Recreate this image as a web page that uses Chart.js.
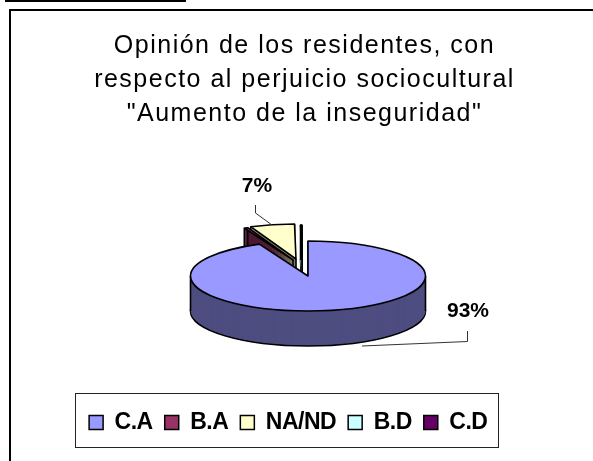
<!DOCTYPE html>
<html>
<head>
  <meta charset="UTF-8">
  <title>Opinión de los residentes</title>
  <script src="https://cdn.jsdelivr.net/npm/chart.js"></script>
  <style>
    html, body { margin: 0; padding: 0; background: #fff; }
    #chart { display: block; }
  </style>
</head>
<body>
  <canvas id="chart" width="593" height="461"></canvas>
  <script>
    const categories = ['C.A', 'B.A', 'NA/ND', 'B.D', 'C.D'];
    const values = [93.2, 0.5, 6.1, 0.1, 0.1];
    const colors = ['#9999FF', '#993366', '#FFFFCC', '#CCFFFF', '#660066'];
    const wallColors = ['#4D4D80', '#4D1A33', '#808066', '#668080', '#330033'];
    const titleLines = ['Opinión de los residentes, con', 'respecto al perjuicio sociocultural', '"Aumento de la inseguridad"'];

    // pie geometry on the page
    const pie = { x: 308, y: 276, rx: 117.5, ry: 35, depth: 35 };
    const shifts = [[0, 0], [-15, -16], [-12, -17], [-6, -16], [-6, -16]];
    const drawOrder = [4, 3, 2, 1, 0];

    function outline(ctx, arc, dy) {
      ctx.beginPath();
      ctx.moveTo(pie.x, pie.y + dy);
      ctx.ellipse(pie.x, pie.y + dy, pie.rx, pie.ry, 0, arc.startAngle, arc.endAngle);
      ctx.closePath();
    }

    function drawArc(ctx, arc, color, dy) {
      const saved = arc.options;
      arc.options = Object.assign({}, saved, { backgroundColor: color, borderColor: color, borderWidth: 0 });
      const k = pie.rx / arc.outerRadius;
      ctx.save();
      ctx.translate(pie.x, pie.y + dy);
      ctx.scale(k, pie.ry / arc.outerRadius);
      ctx.translate(-arc.x, -arc.y);
      arc.draw(ctx);
      ctx.restore();
      arc.options = saved;
    }

    function edgePoints(arc) {
      const pts = [[pie.x, pie.y]];
      const angles = [arc.startAngle, arc.endAngle];
      // side extremes of the ellipse, when the slice reaches them
      [0, Math.PI, 2 * Math.PI].forEach(a => {
        if (a > arc.startAngle && a < arc.endAngle) angles.push(a);
      });
      angles.forEach(a => pts.push([pie.x + pie.rx * Math.cos(a), pie.y + pie.ry * Math.sin(a)]));
      return pts;
    }

    function withSpacing(chart, box, spacing) {
      const draw = box.draw;
      box.draw = function () {
        chart.ctx.letterSpacing = spacing;
        draw.call(this);
        chart.ctx.letterSpacing = '0px';
      };
      box.spaced = true;
    }

    const pie3d = {
      id: 'pie3d',
      afterLayout(chart) {
        // move the boxes to where the reference has them
        const t = chart.titleBlock, l = chart.legend;
        t.left += 8; t.right += 8;
        l.left -= 4; l.right -= 4;
        if (!t.spaced) withSpacing(chart, t, '1.5px');
        if (!l.spaced) withSpacing(chart, l, '-0.5px');
      },
      beforeDraw(chart) {
        const ctx = chart.ctx;
        ctx.save();
        ctx.fillStyle = '#fff';
        ctx.fillRect(0, 0, chart.width, chart.height);
        ctx.strokeStyle = '#000';
        ctx.lineWidth = 2;
        ctx.beginPath();
        ctx.moveTo(5, 1);
        ctx.lineTo(186, 1);
        ctx.moveTo(593, 10);
        ctx.lineTo(10, 10);
        ctx.lineTo(10, 461);
        ctx.stroke();
        ctx.lineWidth = 1;
        ctx.strokeStyle = '#222';
        ctx.strokeRect(75.5, 393.5, 423, 54);
        ctx.restore();
      },
      beforeDatasetDraw(chart, args) {
        const ctx = chart.ctx;
        const arcs = chart.getDatasetMeta(args.index).data;
        ctx.save();
        ctx.strokeStyle = '#000';
        ctx.lineWidth = 1.6;
        ctx.lineJoin = 'round';
        drawOrder.forEach(i => {
          const arc = arcs[i];
          ctx.save();
          ctx.translate(shifts[i][0], shifts[i][1]);
          drawArc(ctx, arc, wallColors[i], pie.depth);
          outline(ctx, arc, pie.depth);
          ctx.stroke();
          for (let d = pie.depth - 1; d > 0; d--) drawArc(ctx, arc, wallColors[i], d);
          ctx.beginPath();
          edgePoints(arc).forEach(p => {
            ctx.moveTo(p[0], p[1]);
            ctx.lineTo(p[0], p[1] + pie.depth);
          });
          ctx.stroke();
          drawArc(ctx, arc, colors[i], 0);
          outline(ctx, arc, 0);
          ctx.stroke();
          ctx.restore();
        });
        ctx.restore();
        return false;
      },
      afterDraw(chart) {
        const ctx = chart.ctx;
        ctx.save();
        ctx.strokeStyle = '#333';
        ctx.lineWidth = 1;
        ctx.beginPath();
        ctx.moveTo(255.5, 205);
        ctx.lineTo(255.5, 213);
        ctx.lineTo(272, 225);
        ctx.moveTo(467.5, 331);
        ctx.lineTo(467.5, 341.5);
        ctx.lineTo(362, 346);
        ctx.stroke();
        ctx.fillStyle = '#000';
        ctx.font = 'bold 21px "Liberation Sans", Arial, sans-serif';
        ctx.textAlign = 'center';
        ctx.textBaseline = 'alphabetic';
        ctx.fillText(Math.round(values[0]) + '%', 468, 317);
        ctx.fillText(Math.round(values[1] + values[2]) + '%', 257, 192);
        ctx.restore();
      }
    };

    new Chart(document.getElementById('chart').getContext('2d'), {
      type: 'pie',
      data: {
        labels: categories,
        datasets: [{ data: values, backgroundColor: colors, borderWidth: 0 }]
      },
      options: {
        responsive: false,
        animation: false,
        layout: { padding: { top: 29, bottom: 17 } },
        plugins: {
          title: {
            display: true,
            text: titleLines,
            color: '#000',
            font: { family: '"Liberation Sans", Arial, sans-serif', size: 25, weight: 'normal', lineHeight: 1.36 },
            padding: 0
          },
          legend: {
            position: 'bottom',
            labels: {
              color: '#000',
              boxWidth: 14,
              boxHeight: 14,
              padding: 12,
              font: { family: '"Liberation Sans", Arial, sans-serif', size: 23, weight: 'bold' },
              generateLabels(chart) {
                return Chart.overrides.pie.plugins.legend.labels.generateLabels(chart).map(item =>
                  Object.assign(item, { strokeStyle: '#000', lineWidth: 1.5 }));
              }
            }
          },
          tooltip: { enabled: false }
        }
      },
      plugins: [pie3d]
    });
  </script>
</body>
</html>
